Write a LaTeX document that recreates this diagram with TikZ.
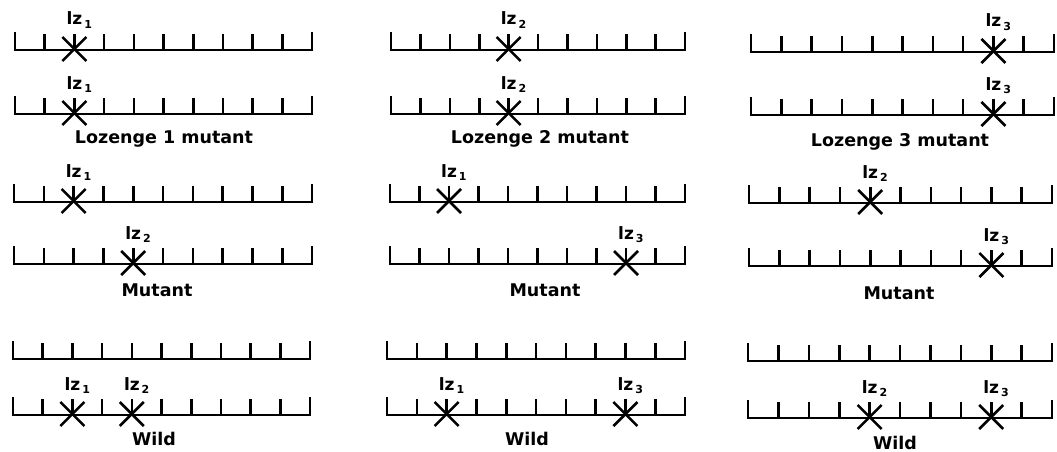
\documentclass[tikz,border=0pt]{standalone}
\usepackage{fontspec}
\setmainfont{DejaVu Sans}
\usetikzlibrary{calc}
\begin{document}
\begin{tikzpicture}[x=1pt,y=-1pt,
  chromline/.style={line width=2.6pt,line join=miter},
  crossmark/.style={line width=2.6pt},
  locname/.style={font=\bfseries\fontsize{17}{17}\selectfont,anchor=base west,inner sep=0pt},
  caption/.style={font=\bfseries\fontsize{17.5}{17.5}\selectfont,inner sep=0pt}]
\useasboundingbox (0,0) rectangle (1057,452);

% chromosome: left x, tick spacing, baseline y, name
\newcommand\chromosome[4]{%
  \coordinate (#4) at (#1,#3);
  \draw[chromline] (#1,#3-18) -- (#1,#3) -- ({#1+10*#2},#3) -- ({#1+10*#2},#3-18);
  \foreach \k in {1,...,9} {\draw[chromline] ({#1+\k*#2},#3) -- ++(0,-16);}
}
% mutation site: left x, tick spacing, baseline y, tick index, gene number, name
\newcommand\mutsite[6]{%
  \coordinate (#6c) at ({#1+#4*#2},#3-1);
  \draw[crossmark] ($(#6c)+(-12,-12)$) -- ($(#6c)+(12,12)$);
  \draw[crossmark] ($(#6c)+(12,-12)$) -- ($(#6c)+(-12,12)$);
  \node[locname] (#6) at ($(#6c)+(-8,-24)$) {lz\kern2pt\raisebox{-3.5pt}{\fontsize{11}{11}\selectfont #5}};
}

% column 1
\chromosome{15}{29.7}{50}{a1}
\mutsite{15}{29.7}{50}{2}{1}{a1m}
\chromosome{15}{29.7}{114}{a2}
\mutsite{15}{29.7}{114}{2}{1}{a2m}
\node[caption] (capa1) at (164,139) {Lozenge 1 mutant};
\chromosome{14}{29.8}{202}{a3}
\mutsite{14}{29.8}{202}{2}{1}{a3m}
\chromosome{14}{29.8}{264}{a4}
\mutsite{14}{29.8}{264}{4}{2}{a4m}
\node[caption] (capa2) at (157,290) {Mutant};
\chromosome{13}{29.7}{359}{a5}
\chromosome{13}{29.7}{415}{a6}
\mutsite{13}{29.7}{415}{2}{1}{a6m}
\mutsite{13}{29.7}{415}{4}{2}{a6n}
\node[caption] (capa3) at (154,439) {Wild};

% column 2
\chromosome{391}{29.4}{50}{b1}
\mutsite{391}{29.4}{50}{4}{2}{b1m}
\chromosome{391}{29.4}{114}{b2}
\mutsite{391}{29.4}{114}{4}{2}{b2m}
\node[caption] (capb1) at (540,139) {Lozenge 2 mutant};
\chromosome{390}{29.5}{202}{b3}
\mutsite{390}{29.5}{202}{2}{1}{b3m}
\chromosome{390}{29.5}{264}{b4}
\mutsite{390}{29.5}{264}{8}{3}{b4m}
\node[caption] (capb2) at (545,290) {Mutant};
\chromosome{387}{29.8}{359}{b5}
\chromosome{387}{29.8}{415}{b6}
\mutsite{387}{29.8}{415}{2}{1}{b6m}
\mutsite{387}{29.8}{415}{8}{3}{b6n}
\node[caption] (capb3) at (527,439) {Wild};

% column 3
\chromosome{751}{30.3}{52}{c1}
\mutsite{751}{30.3}{52}{8}{3}{c1m}
\chromosome{751}{30.3}{115}{c2}
\mutsite{751}{30.3}{115}{8}{3}{c2m}
\node[caption] (capc1) at (900,142) {Lozenge 3 mutant};
\chromosome{749}{30.3}{203}{c3}
\mutsite{749}{30.3}{203}{4}{2}{c3m}
\chromosome{749}{30.3}{266}{c4}
\mutsite{749}{30.3}{266}{8}{3}{c4m}
\node[caption] (capc2) at (899,293) {Mutant};
\chromosome{748}{30.4}{361}{c5}
\chromosome{748}{30.4}{418}{c6}
\mutsite{748}{30.4}{418}{4}{2}{c6m}
\mutsite{748}{30.4}{418}{8}{3}{c6n}
\node[caption] (capc3) at (895,443) {Wild};
\end{tikzpicture}
\end{document}
